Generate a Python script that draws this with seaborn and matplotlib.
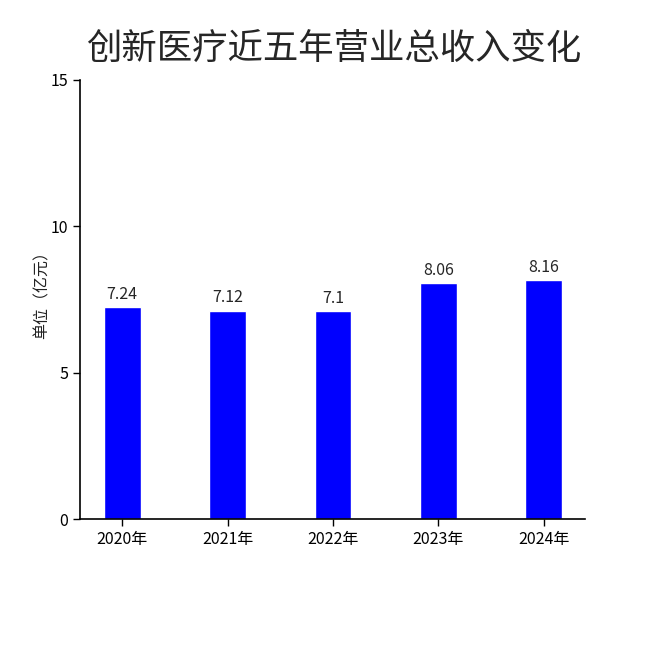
import matplotlib
matplotlib.use("Agg")
import matplotlib.pyplot as plt
import seaborn as sns
import pandas as pd

years = ["2020年", "2021年", "2022年", "2023年", "2024年"]
revenue = [7.24, 7.12, 7.1, 8.06, 8.16]
value_labels = ["7.24", "7.12", "7.1", "8.06", "8.16"]
title = "创新医疗近五年营业总收入变化"
ylabel = "单位（亿元）"

sns.set_theme(style="ticks")
plt.rcParams['font.family'] = ['Noto Sans CJK SC', 'DejaVu Sans']

df = pd.DataFrame({"year": years, "revenue": revenue})

fig = plt.figure(figsize=(6.5, 6.5), dpi=100)
ax = fig.add_axes([0.123, 0.2015, 0.777, 0.6755])
sns.barplot(data=df, x="year", y="revenue", color="#0000FF", saturation=1,
            width=0.35, ax=ax)
ax.set_xlim(-0.4, 4.39)
ax.set_ylim(0, 15)
ax.set_yticks([0, 5, 10, 15])
ax.set_xlabel("")
ax.set_ylabel(ylabel, fontsize=11.5, color="#222222")
ax.yaxis.set_label_coords(-0.058, 0.52)
ax.tick_params(axis="both", labelsize=11.5, length=5, width=1, colors="black")
for s in ["top", "right"]:
    ax.spines[s].set_visible(False)
for s in ["left", "bottom"]:
    ax.spines[s].set_color("black")
    ax.spines[s].set_linewidth(1.2)

ax.bar_label(ax.containers[0], labels=value_labels, padding=3, fontsize=11.5)

fig.text(0.513, 0.925, title, ha="center", va="center", fontsize=25.5,
         fontweight="medium")

fig.savefig("out.png", dpi=100)
